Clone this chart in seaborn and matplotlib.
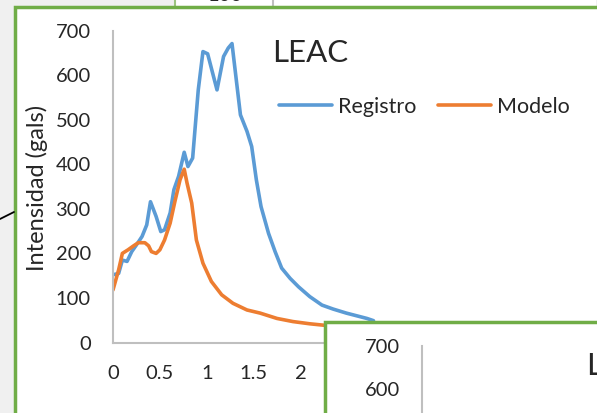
import numpy as np
import pandas as pd
import seaborn as sns
import matplotlib.pyplot as plt
from matplotlib.patches import Rectangle
from matplotlib.lines import Line2D
from matplotlib.ticker import FuncFormatter

# data
registro_x = [0, 0.06, 0.10, 0.15, 0.20, 0.25, 0.31, 0.36, 0.40, 0.46, 0.51, 0.55, 0.61, 0.65,
              0.70, 0.76, 0.80, 0.85, 0.875, 0.91, 0.96, 1.01, 1.11, 1.18, 1.23, 1.27, 1.32,
              1.36, 1.43, 1.48, 1.53, 1.58, 1.66, 1.73, 1.80, 1.89, 1.98, 2.10, 2.23, 2.35,
              2.49, 2.71, 2.78]
registro_y = [152, 155, 185, 182, 204, 219, 238, 264, 316, 283, 249, 253, 291, 343,
              373, 427, 395, 414, 478, 567, 653, 648, 567, 642, 661, 671, 582,
              511, 474, 440, 365, 305, 245, 204, 167, 144, 125, 103, 84, 75,
              66, 54, 49]
modelo_x = [0, 0.06, 0.10, 0.16, 0.22, 0.27, 0.34, 0.38, 0.41, 0.46, 0.50, 0.55, 0.61, 0.66,
            0.715, 0.76, 0.79, 0.84, 0.89, 0.96, 1.05, 1.16, 1.28, 1.43, 1.57, 1.75, 1.92,
            2.10, 2.24, 2.35]
modelo_y = [118, 163, 200, 208, 217, 224, 224, 217, 204, 200, 208, 230, 268, 316,
            365, 389, 358, 313, 230, 178, 137, 107, 88, 73, 66, 54, 47,
            42, 39, 37]
series = ['Registro', 'Modelo']
colors = ['#5b9bd5', '#ed7d31']
y_ticks = [0, 100, 200, 300, 400, 500, 600, 700]
x_ticks = [0, 0.5, 1, 1.5, 2]
y_ticks_back = [600, 700]   # visible labels of the chart lying on top

df = pd.concat([
    pd.DataFrame({'x': registro_x, 'y': registro_y, 'serie': 'Registro'}),
    pd.DataFrame({'x': modelo_x, 'y': modelo_y, 'serie': 'Modelo'}),
])

sns.set_style('white')
plt.rcParams['font.family'] = ['Lato', 'DejaVu Sans']

W, H = 597, 413
fig = plt.figure(figsize=(W / 100, H / 100), dpi=100, facecolor='#f0f0f0')

def fx(px):
    return px / W

def fy(py):
    return 1 - py / H

gray = '#bfbfbf'
green = '#70ad47'
txt = '#262626'

# top strip: pieces of another chart
fig.patches.append(Rectangle((fx(176), fy(7)), fx(420), 7 / H, transform=fig.transFigure,
                             facecolor='white', edgecolor='none', zorder=-2))
fig.add_artist(Line2D([fx(175), fx(175)], [fy(0), fy(7)], color='#9cc47f', lw=1.5, zorder=-1))
fig.add_artist(Line2D([fx(272.5), fx(272.5)], [fy(0), fy(7)], color=gray, lw=1.5, zorder=-1))
fig.text(fx(225), fy(-4), '100', ha='center', va='center', fontsize=14.5, color=txt, zorder=-1)

# main chart area with green border
fig.patches.append(Rectangle((fx(15), fy(430)), fx(600), 423 / H, transform=fig.transFigure,
                             facecolor='white', edgecolor=green, lw=2.5, zorder=-1))
# connector line on the left
fig.add_artist(Line2D([fx(0), fx(14)], [fy(219), fy(212)], color='black', lw=1.3))

ax_l = 113
ppu_x, ppu_y = 93.7, 0.4455
ax = fig.add_axes([fx(ax_l), 70.5 / H, 5 * ppu_x / W, 700 * ppu_y / H])
ax.set_facecolor('none')
sns.lineplot(data=df, x='x', y='y', hue='serie', hue_order=series, palette=colors,
             estimator=None, sort=False, lw=2.6, ax=ax, legend=False)
ax.set_xlim(0, 5)
ax.set_ylim(0, 700)
ax.set_xticks(x_ticks)
ax.set_yticks(y_ticks)
ax.xaxis.set_major_formatter(FuncFormatter(lambda v, p: '%g' % v))
ax.tick_params(axis='both', length=0, labelsize=14.5, colors=txt)
ax.tick_params(axis='y', pad=16)
ax.tick_params(axis='x', pad=16)
for s in ['top', 'right']:
    ax.spines[s].set_visible(False)
for s in ['left', 'bottom']:
    ax.spines[s].set_color(gray)
    ax.spines[s].set_linewidth(1.5)
ax.set_xlabel('')
ax.set_ylabel('')
fig.text(fx(37), fy(188), 'Intensidad (gals)', rotation=90, ha='center', va='center',
         fontsize=17, color=txt)

fig.text(fx(272), fy(53), 'LEAC', ha='left', va='center', fontsize=22.5, color=txt)
handles = [Line2D([], [], color=c, lw=2.6) for c in colors]
ax.legend(handles, series, loc='center left', bbox_to_anchor=(fx(268), fy(107)),
          bbox_transform=fig.transFigure, ncol=2, frameon=False, fontsize=15.5,
          handlelength=2.45, handletextpad=0.3, columnspacing=1.0, borderpad=0,
          labelcolor=txt)

# overlapping chart in the lower right
fig.patches.append(Rectangle((fx(325), fy(430)), fx(300), 108 / H, transform=fig.transFigure,
                             facecolor='white', edgecolor=green, lw=2.5, zorder=2))
ax2 = fig.add_axes([fx(422), fy(346 + 700 * 0.435), 0.3, 700 * 0.435 / H], zorder=3)
ax2.set_facecolor('none')
ax2.set_ylim(0, 700)
ax2.set_xticks([])
ax2.set_yticks(y_ticks_back)
ax2.tick_params(axis='y', length=0, labelsize=14.5, colors=txt, pad=16)
for s in ['top', 'right', 'bottom']:
    ax2.spines[s].set_visible(False)
ax2.spines['left'].set_color(gray)
ax2.spines['left'].set_linewidth(1.5)
fig.text(fx(586), fy(366), 'L', ha='left', va='center', fontsize=22.5, color=txt, zorder=4)

fig.savefig('out.png', dpi=100, facecolor=fig.get_facecolor())
